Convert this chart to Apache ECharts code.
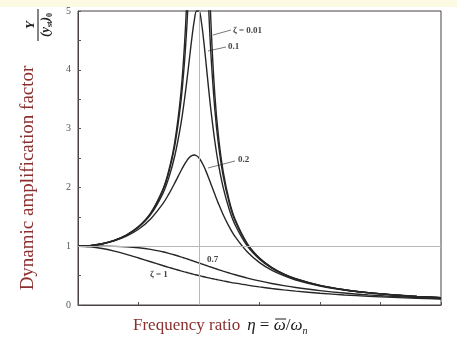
<!DOCTYPE html>
<html><head><meta charset="utf-8">
<script src="https://cdn.jsdelivr.net/npm/echarts@6/dist/echarts.min.js"></script>
<style>html,body{margin:0;padding:0;background:#fff}#c{width:457px;height:345px}</style>
</head><body><div id="c"></div>
<script>
// frequency ratio samples
const eta = [0,0.1,0.2,0.3,0.4,0.5,0.6,0.7,0.75,0.8,0.85,0.88,0.9,0.92,0.94,0.96,0.98,1.0,1.02,1.04,1.06,1.08,1.1,1.13,1.16,1.2,1.25,1.3,1.4,1.5,1.6,1.7,1.8,2.0,2.2,2.4,2.6,2.8,3.0];
// amplification factor read for each damping ratio
const zeta001 = [1,1.0101,1.0417,1.0989,1.1905,1.3333,1.5625,1.960,2.284,2.775,3.597,4.419,5.240,6.464,8.48,12.39,22.63,50,22.10,11.87,7.97,5.960,4.736,3.599,2.887,2.269,1.776,1.448,1.041,0.800,0.641,0.529,0.446,0.333,0.260,0.210,0.174,0.146,0.125];
const zeta005 = [1,1.0100,1.0414,1.0983,1.1891,1.3304,1.5557,1.9426,2.2528,2.7116,3.4455,4.1295,4.7564,5.585,6.684,8.068,9.461,10,9.115,7.565,6.141,5.041,4.218,3.344,2.743,2.193,1.735,1.424,1.031,0.794,0.638,0.527,0.445,0.333,0.260,0.210,0.173,0.146,0.125];
const zeta01 = [1,1.0099,1.0408,1.0965,1.1851,1.3216,1.5357,1.8908,2.1621,2.5384,3.0728,3.4949,3.8208,4.1721,4.5225,4.8218,5.001,5.0,4.8086,4.4756,4.0749,3.6675,3.2880,2.7978,2.4024,1.9952,1.6245,1.3562,1.0,0.7779,0.6279,0.5207,0.4408,0.3304,0.2587,0.2090,0.1729,0.1457,0.1247];
const zeta02 = [1,1.0093,1.0381,1.0895,1.1695,1.2883,1.4630,1.7188,1.8851,2.0761,2.2786,2.3918,2.4566,2.5077,2.5407,2.5515,2.5381,2.5,2.4391,2.3589,2.2642,2.1601,2.0511,1.8865,1.7284,1.5357,1.3287,1.1574,0.8998,0.7212,0.5931,0.4979,0.4250,0.3221,0.2538,0.2059,0.1708,0.1443,0.1236];
const zeta07 = [1,1.0002,1.0,0.9978,0.9905,0.9747,0.9469,0.9052,0.8791,0.8500,0.8184,0.7984,0.7848,0.7709,0.7569,0.7428,0.7286,0.7143,0.7000,0.6857,0.6715,0.6574,0.6434,0.6226,0.6023,0.5758,0.5440,0.5138,0.4582,0.4092,0.3663,0.3290,0.2966,0.2437,0.2031,0.1716,0.1468,0.1268,0.1107];
const zeta1 = [1,0.9901,0.9615,0.9174,0.8621,0.8,0.7353,0.6711,0.64,0.6098,0.5806,0.5636,0.5525,0.5416,0.5309,0.5204,0.5101,0.5,0.4901,0.4804,0.4709,0.4616,0.4525,0.4392,0.4263,0.4098,0.3902,0.3717,0.3378,0.3077,0.2809,0.2571,0.2358,0.2,0.1712,0.1479,0.1289,0.1131,0.1];
const yTickLabels = [0,1,2,3,4,5];
const curveLabels = ['ζ = 0.01','0.1','0.2','0.7','ζ = 1'];

const chart = echarts.init(document.getElementById('c'), null, {renderer:'canvas'});
const mk = v => eta.map((x,i)=>[x, v[i]]);
const ls = {color:'#262626', width:1.4};
const series = [zeta001, zeta005, zeta01, zeta02, zeta07, zeta1].map(v => ({
  type:'line', data:mk(v), symbol:'none', showSymbol:false, smooth:0.35,
  lineStyle:ls, clip:true, silent:true
}));
series[0].markLine = {silent:true, symbol:'none', label:{show:false},
  lineStyle:{color:'#b8b8b8', width:1, type:'solid'}, data:[{yAxis:1},{xAxis:1}]};

const serif = '"Liberation Serif", "DejaVu Serif", serif';
const lblFont = 'bold 9px ' + serif;
const lblFill = '#444';
const leader = (x1,y1,x2,y2) => ({type:'line', shape:{x1,y1,x2,y2}, style:{stroke:'#555', lineWidth:0.8}, silent:true});

// x-axis title pieces, laid out with measured widths
const cv = document.createElement('canvas').getContext('2d');
const w = (t, f) => { cv.font = f; return cv.measureText(t).width; };
const fTitle = '17px ' + serif, fIt = 'italic 17px ' + serif, fSub = 'italic 10px ' + serif;
const ty = 326;
let px = 133;
const xt = [];
const put = (t, f, fill, dy) => { xt.push({type:'text', x:px, y:ty + (dy||0), silent:true, style:{text:t, font:f, fill, textVerticalAlign:'middle'}}); const ww = w(t,f); px += ww; return ww; };
put('Frequency ratio', fTitle, '#8b2f2f');
px += 7;
put('η', fIt, '#1a1a1a');
put(' = ', fTitle, '#1a1a1a');
const omStart = px;
const omW = put('ω', fIt, '#1a1a1a');
xt.push({type:'line', silent:true, shape:{x1:omStart+1.5, y1:ty-7, x2:omStart+omW+0.5, y2:ty-7}, style:{stroke:'#1a1a1a', lineWidth:1}});
put('/', fTitle, '#1a1a1a');
put('ω', fIt, '#1a1a1a');
put('n', fSub, '#1a1a1a', 5);

chart.setOption({
  animation:false,
  backgroundColor:'#ffffff',
  grid:{left:78, right:16, top:11, bottom:40, show:true, borderColor:'#4a4242', borderWidth:1},
  xAxis:{type:'value', min:0, max:3, interval:0.5,
    axisLabel:{show:false},
    axisTick:{show:true, inside:true, length:3, lineStyle:{color:'#555'}},
    axisLine:{lineStyle:{color:'#4a4242', width:1}},
    splitLine:{show:false}},
  yAxis:{type:'value', min:0, max:5, interval:0.5,
    axisLabel:{formatter:v => yTickLabels.includes(v) ? String(v) : '', color:'#555', fontFamily:serif, fontSize:10, margin:7},
    axisTick:{show:true, inside:true, length:3, lineStyle:{color:'#555'}},
    axisLine:{lineStyle:{color:'#4a4242', width:1}},
    splitLine:{show:false}},
  series:series,
  graphic:[
    {type:'rect', shape:{x:0,y:0,width:457,height:7}, style:{fill:'#fcfae3'}, silent:true},
    {type:'text', x:28, y:178, rotation:Math.PI/2, silent:true,
      style:{text:'Dynamic amplification factor', font:'19px ' + serif, fill:'#8b2f2f', textAlign:'center', textVerticalAlign:'middle'}},
    {type:'group', x:38, y:25, rotation:Math.PI/2, silent:true, children:[
      {type:'text', x:0, y:-7, style:{text:'Y', font:'italic bold 13px ' + serif, fill:'#222', textAlign:'center', textVerticalAlign:'middle'}},
      {type:'line', shape:{x1:-16,y1:0,x2:16,y2:0}, style:{stroke:'#333', lineWidth:1.2}},
      {type:'text', x:0, y:8, style:{text:'{a|(y}{b|st}{a|)}{b|0}', textAlign:'center', textVerticalAlign:'middle',
        rich:{a:{font:'italic bold 13px ' + serif, fill:'#222', lineHeight:15},
              b:{font:'bold 8px ' + serif, fill:'#222', verticalAlign:'bottom', lineHeight:15}}}}
    ]},
    ...xt,
    leader(213,35,231,30),
    {type:'text', x:233, y:31, silent:true, style:{text:curveLabels[0], font:lblFont, fill:lblFill, textVerticalAlign:'middle'}},
    leader(208,51,226,47),
    {type:'text', x:228, y:47, silent:true, style:{text:curveLabels[1], font:lblFont, fill:lblFill, textVerticalAlign:'middle'}},
    leader(208,168,235,161),
    {type:'text', x:238, y:160, silent:true, style:{text:curveLabels[2], font:lblFont, fill:lblFill, textVerticalAlign:'middle'}},
    {type:'text', x:207, y:260, silent:true, style:{text:curveLabels[3], font:lblFont, fill:lblFill, textVerticalAlign:'middle'}},
    {type:'text', x:150, y:275, silent:true, style:{text:curveLabels[4], font:lblFont, fill:lblFill, textVerticalAlign:'middle'}}
  ]
});
</script></body></html>
